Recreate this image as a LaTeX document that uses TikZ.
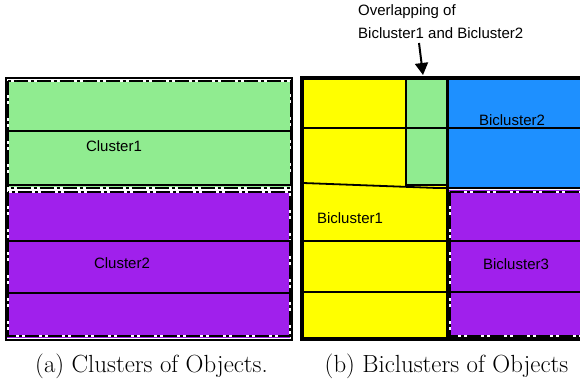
\documentclass[tikz,border=0pt]{standalone}
\usepackage{fontspec}
\newfontfamily\lab{Liberation Sans}
\usetikzlibrary{arrows.meta}
\definecolor{cgreen}{RGB}{144,236,144}
\definecolor{cpurple}{RGB}{160,32,236}
\definecolor{cblue}{RGB}{30,144,255}
\definecolor{cyellow}{RGB}{255,255,0}
\tikzset{
  sep/.style={line width=1.8pt, black},
  outer/.style={line width=2.2pt, black},
  thick outer/.style={line width=4pt, black},
  dashdot under/.style={line width=2pt, white},
  dashdot line/.style={line width=2pt, black, dash pattern=on 14pt off 3pt on 3pt off 3pt},
  lbl/.style={font=\lab\fontsize{15}{18}\selectfont, inner sep=0pt},
  captext/.style={font=\fontsize{24.8}{29}\selectfont, inner sep=0pt, anchor=base},
}
\begin{document}
\begin{tikzpicture}[x=1pt,y=-1pt]
\useasboundingbox (0,0) rectangle (580,379);
\clip (0,0) rectangle (580,379);
% ---------- left panel ----------
\fill[cgreen] (7,80) rectangle (291,189);
\fill[cpurple] (7,191) rectangle (290,338);
\draw[dashdot under] (8,81.5) rectangle (291,188);
\draw[dashdot line] (8,81.5) rectangle (291,188);
\draw[dashdot under] (8,192) rectangle (290,336);
\draw[dashdot line] (8,192) rectangle (290,336);
\draw[sep] (7,131) -- (292,131);
\draw[sep] (7,185) -- (292,185);
\draw[sep] (7,241) -- (291,241);
\draw[sep] (7,293) -- (291,293);
\draw[outer] (6,78) rectangle (292,340);
\node[lbl] (c1) at (114,146) {Cluster1};
\node[lbl] (c2) at (122,263) {Cluster2};
% ---------- right panel ----------
\fill[cyellow] (303,79) rectangle (447,339);
\fill[cgreen] (406,79) rectangle (446,185);
\fill[cblue] (447,79) rectangle (590,188);
\fill[cpurple] (449,190) rectangle (590,338);
\draw[dashdot under] (450,192) -- (450,336) -- (590,336);
\draw[dashdot under] (450,192) -- (590,192);
\draw[dashdot line] (450,192) -- (590,192);
\draw[dashdot line] (450,192) -- (450,336) -- (590,336);
\draw[sep] (406,78) -- (406,185) -- (447,185);
\draw[sep] (302,128) -- (590,128);
\draw[sep] (303,183) -- (437,188) -- (447,188);
\draw[sep] (447,188) -- (590,188);
\draw[sep] (302,241) -- (590,241);
\draw[sep] (302,292) -- (590,292);
\draw[line width=3pt] (447,77) -- (447,340);
\draw[thick outer] (302,78) rectangle (595,339);
\node[lbl] (b1) at (350,218) {Bicluster1};
\node[lbl] (b2) at (512,120) {Bicluster2};
\node[lbl] (b3) at (516,264) {Bicluster3};
% ---------- annotation ----------
\node[lbl, anchor=west] (ov1) at (358,12) {Overlapping of};
\node[lbl, anchor=west] (ov2) at (358,33) {Bicluster1 and Bicluster2};
\coordinate (atail) at (419,43);
\coordinate (ahead) at (423,75);
\draw[line width=2pt, -{Triangle[length=12pt,width=13pt]}] (atail) -- (ahead);
% ---------- captions ----------
\node[captext] (capa) at (151.5,372) {(a) Clusters of Objects.};
\node[captext] (capb) at (446.5,372) {(b) Biclusters of Objects};
\end{tikzpicture}
\end{document}
